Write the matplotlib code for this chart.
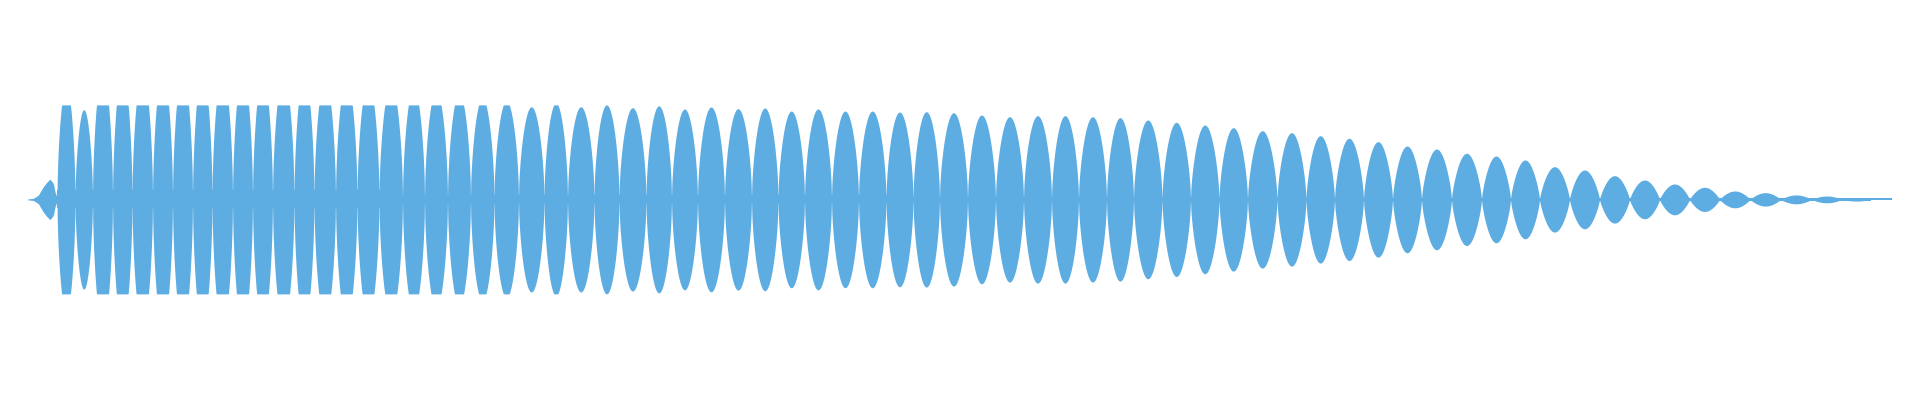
"""Waveform strip: a clipped, decaying tone drawn as its amplitude envelope."""

import matplotlib

matplotlib.use("Agg")
import matplotlib.pyplot as plt
import numpy as np

WAVE_COLOR = "#5dade2"

# time axis in ms; amplitude normalised to full scale (1.0 = clipping level)
# boundaries between successive lobes of the envelope (zero crossings of the beat)
lobe_edges = [
    57, 75, 92.5, 112.5, 132, 152.5, 172.5, 192.5, 212, 232.5, 252.5, 272.5,
    294, 314, 335.5, 357, 379, 402.5, 424.5, 447.5, 470.5, 494, 518.5, 544,
    567.5, 594, 619, 646, 671.5, 697.5, 724.5, 751.5, 778, 804.5, 831.5,
    858.5, 886, 913, 939.5, 967.5, 995.5, 1023.5, 1051.5, 1078.5, 1106.5,
    1133.5, 1162, 1190.5, 1219, 1247.5, 1277, 1306, 1334.5, 1363.5, 1392.5,
    1421.5, 1451.5, 1481.5, 1510.5, 1539.5, 1569.5, 1599.5, 1629.5, 1659.5,
    1689.5, 1719.5, 1750, 1780.5, 1811.5, 1842, 1871,
]

# peak of each lobe before clipping (values > 1 are flattened at full scale)
lobe_peak = [
    1.20, 0.95, 1.35, 1.35, 1.35, 1.35, 1.35, 1.35, 1.35, 1.35, 1.32, 1.32,
    1.32, 1.28, 1.28, 1.25, 1.22, 1.18, 1.15, 1.12, 1.07, 1.04, 0.98, 1.02,
    0.98, 1.00, 0.97, 0.99, 0.957, 0.978, 0.96, 0.967, 0.935, 0.957, 0.935,
    0.935, 0.925, 0.928, 0.917, 0.893, 0.875, 0.886, 0.886, 0.875, 0.865,
    0.840, 0.816, 0.787, 0.759, 0.727, 0.706, 0.674, 0.647, 0.611, 0.565,
    0.533, 0.488, 0.459, 0.417, 0.346, 0.311, 0.251, 0.205, 0.163, 0.128,
    0.089, 0.071, 0.047, 0.036, 0.018,
]

# onset blip before the tone starts
onset_t = [28, 33.3, 38.3, 43.3, 46.7, 50, 53.3, 55, 56.7]
onset_amp = [0.006, 0.011, 0.045, 0.134, 0.18, 0.215, 0.17, 0.08, 0.03]

# residual level between lobes (never quite reaches silence)
floor_start = [57, 380, 900, 1220, 1871]
floor_end = [380, 900, 1220, 1871, 1892]
floor_amp = [0.095, 0.045, 0.03, 0.015, 0.01]

CLIP = 1.0

fig = plt.figure(figsize=(19.2, 4.0), dpi=100)
ax = fig.add_axes([0, 0, 1, 1])
ax.set_xlim(0, 1920)
ax.set_ylim(-2.123, 2.110)
ax.axis("off")

# lobes: half-sine profile, fuller for the loud lobes, sharper as the tone dies
u = np.linspace(0, 1, 80)
half_sine = np.sin(np.pi * u)
xs, ys = [], []
for x0, x1, pk in zip(lobe_edges[:-1], lobe_edges[1:], lobe_peak):
    fullness = 0.55 + 0.35 * (1 - min(pk, 1.0))
    xs.append(x0 + u * (x1 - x0))
    ys.append(np.minimum(pk * half_sine ** fullness, CLIP))
xs = np.concatenate(xs)
ys = np.concatenate(ys)
ax.fill_between(xs, -ys, ys, color=WAVE_COLOR, lw=0, antialiased=False)

# residual band
for s, e, f in zip(floor_start, floor_end, floor_amp):
    ax.fill_between([s, e], [-f, -f], [f, f], color=WAVE_COLOR, lw=0,
                    antialiased=False)

# onset
oa = np.array(onset_amp)
ax.fill_between(onset_t, -oa, oa, color=WAVE_COLOR, lw=0, antialiased=False)

fig.savefig("out.png", dpi=100, facecolor="white")
